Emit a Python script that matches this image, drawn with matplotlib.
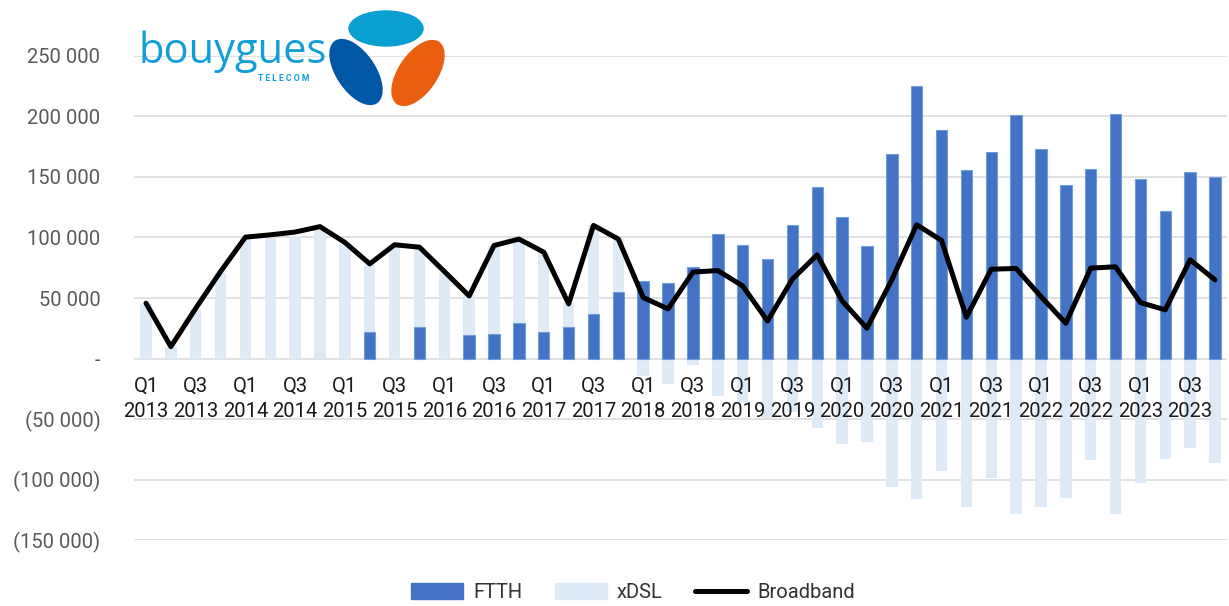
import numpy as np
import matplotlib
matplotlib.use("Agg")
import matplotlib.pyplot as plt
from matplotlib.patches import Ellipse
from matplotlib.ticker import FuncFormatter
from matplotlib.lines import Line2D

# net adds per quarter, Q1 2013 .. Q4 2023
years = [2013, 2014, 2015, 2016, 2017, 2018, 2019, 2020, 2021, 2022, 2023]
quarters = ["Q%d %d" % (q, y) for y in years for q in (1, 2, 3, 4)]

ftth = [0, 0, 0, 0, 0, 0, 0, 0, 0, 22000,
        0, 26000, 0, 19500, 20000, 29000, 22000, 26000, 37000, 55000,
        64000, 62000, 76000, 102500, 94000, 82000, 110000, 142000, 117000, 93000,
        169000, 225500, 189000, 156000, 171000, 201000, 173000, 143000, 157000, 202000,
        148000, 122000, 154000, 150000]
xdsl = [45000, 9500, 41000, 71000, 99000, 100000, 101000, 106000, 95000, 55000,
        92000, 66000, 70500, 33000, 73000, 68000, 66000, 20000, 73000, 44000,
        -14200, -21100, -5600, -30600, -35700, -49500, -44500, -57800, -70300, -68900,
        -106400, -116400, -93300, -123000, -98900, -128600, -123000, -115300, -84200, -128600,
        -103000, -83000, -73900, -86000]
broadband = [45700, 9800, 41500, 71900, 100300, 102200, 104500, 109000, 95900, 78200,
             94000, 92000, 71900, 51700, 93400, 98700, 87900, 45100, 110000, 98700,
             50400, 41000, 71400, 72700, 60000, 31000, 65600, 85700, 47600, 25000,
             65000, 110500, 97600, 34100, 73800, 74400, 51200, 29100, 74700, 75800,
             46200, 40200, 81600, 65000]

plt.rcParams['font.family'] = ['Roboto', 'DejaVu Sans']

fig = plt.figure(figsize=(12.29, 6.06), dpi=100)
ax = fig.add_axes([0.1087, 0.1089, 0.890, 0.7987])

yticks = list(range(-150000, 250001, 50000))
# gridlines drawn by hand so the tick labels can sit above the bars
for t in yticks:
    ax.axhline(t, color='#d9d9d9', lw=1.1, zorder=0.5)

x = np.arange(len(quarters))
ftth_a = np.array(ftth)
xdsl_a = np.array(xdsl)
# xDSL sits on top of FTTH when positive, goes down from zero when negative
ax.bar(x, xdsl_a, width=0.46, bottom=np.where(xdsl_a >= 0, ftth_a, 0),
       color='#deebf7', zorder=1)
ax.bar(x, ftth_a, width=0.46, color='#4472c4',
       edgecolor=['#6fa0dc' if v else 'none' for v in ftth],
       linewidth=0.8, zorder=1.2)
ax.plot(x, broadband, color='black', lw=3.6, solid_joinstyle='round',
        solid_capstyle='round', zorder=3)

ax.set_xlim(-0.5, len(quarters) - 0.5)
ax.set_ylim(-150000, 250000)
ax.set_yticks(yticks)


def fmt(v, pos):
    if v == 0:
        return "-"
    s = "{:,.0f}".format(abs(v)).replace(",", " ")
    return "(%s)" % s if v < 0 else s


ax.yaxis.set_major_formatter(FuncFormatter(fmt))
ax.set_axisbelow(False)
for s in ax.spines.values():
    s.set_visible(False)
ax.spines['bottom'].set_position(('data', 0))

ax.set_xticks(x[::2])
ax.set_xticklabels([q.replace(" ", "\n") for q in quarters[::2]], linespacing=1.45)
ax.tick_params(axis='x', length=0, pad=13, labelsize=14.5, labelcolor='#1a1a1a')
ax.tick_params(axis='y', length=0, pad=24, labelsize=14.5, labelcolor='#595959')

# legend
handles = [plt.Rectangle((0, 0), 1, 1, color='#4472c4'),
           plt.Rectangle((0, 0), 1, 1, color='#deebf7'),
           Line2D([0], [0], color='black', lw=3.6, solid_capstyle='round')]
fig.legend(handles, ["FTTH", "xDSL", "Broadband"], loc='center',
           bbox_to_anchor=(0.515, 0.022), ncol=3, frameon=False, fontsize=14.5,
           handlelength=2.6, handleheight=0.8, columnspacing=1.6,
           handletextpad=0.5, labelcolor='#333333')

# logo (drawn in inches from the top-left)
T = fig.dpi_scale_trans
H = 6.06


def px(xp, yp):
    return xp / 100.0, H - yp / 100.0


fig.add_artist(Ellipse(px(386, 28.5), 0.74, 0.35, color='#0a9fd1', transform=T))
fig.add_artist(Ellipse(px(356, 72), 0.74, 0.38, angle=-56, color='#0057a5', transform=T))
fig.add_artist(Ellipse(px(418, 73), 0.74, 0.38, angle=56, color='#e95e0f', transform=T))
bx, by = px(138, 63)
fig.text(bx, by, "bouygues", transform=T, fontsize=30, color='#139ed8',
         family='Open Sans', ha='left', va='baseline')
tx, ty = px(258, 81)
fig.text(tx, ty, "T E L E C O M", transform=T, fontsize=6.2, color='#139ed8',
         fontweight='bold', ha='left', va='baseline')

fig.savefig("out.png", dpi=100)
